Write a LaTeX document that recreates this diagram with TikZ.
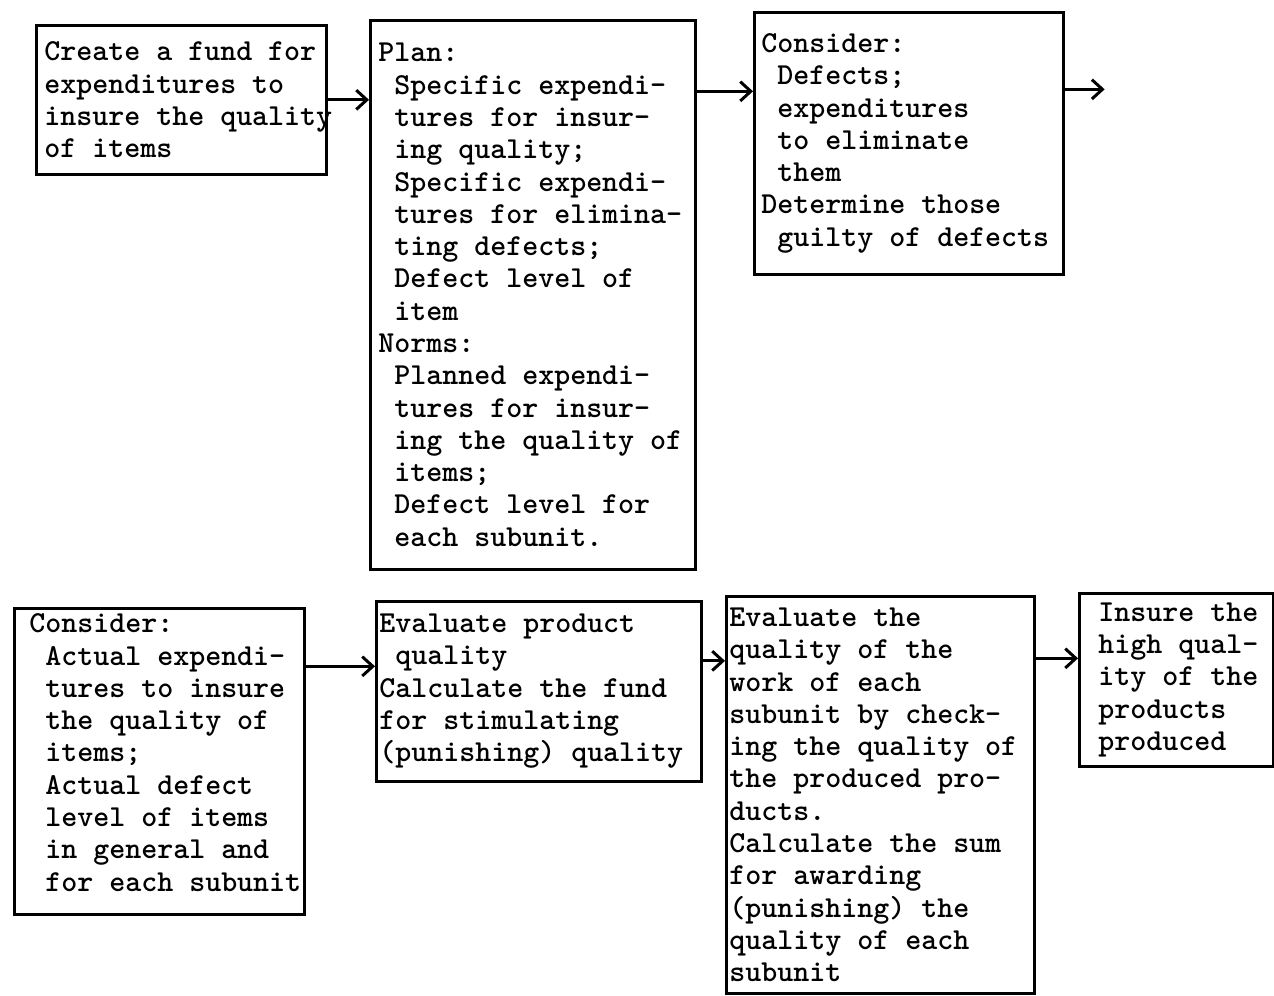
\documentclass[tikz,border=0pt]{standalone}
\usetikzlibrary{arrows.meta, positioning}

% one typewriter step to the right
\newcommand\lind{\hspace*{0.525em}}

\begin{document}
\begin{tikzpicture}[x=0.02cm, y=-0.02cm,
        box/.style n args = {3}{draw, line width=1.5pt, anchor=north west, align=left,
            font=\ttfamily\bfseries\fontsize{17.34}{18.38}\selectfont,
            minimum width=#1*0.02cm, minimum height=#2*0.02cm, inner ysep=0pt,
            inner xsep=#3*0.02cm, text width=(#1-2*#3)*0.02cm,
            execute at begin node={\spaceskip=0pt\xspaceskip=0pt
                \rightskip=0pt plus 1fil\advance\rightskip by -3cm\relax}},
        flow/.style = {->, line width=1.7pt},
        >={Straight Barb[length=6pt, width=11pt]}]

    \useasboundingbox (0,0) rectangle (1274,996);

    % upper row
    \node[box={290}{149}{8}] (b1) at (35,24)
        {Create a fund for\\expenditures to\\insure the quality\\of items};
    \node[box={325}{549}{8}] (b2) at (369,19)
        {Plan:\\\lind Specific expendi-\\\lind tures for insur-\\\lind ing quality;\\
         \lind Specific expendi-\\\lind tures for elimina-\\\lind ting defects;\\
         \lind Defect level of\\\lind item\\Norms:\\\lind Planned expendi-\\
         \lind tures for insur-\\\lind ing the quality of\\\lind items;\\
         \lind Defect level for\\\lind each subunit.};
    \node[box={309}{262}{7}] (b3) at (753,11)
        {Consider:\\\lind Defects;\\\lind expenditures\\\lind to eliminate\\\lind them\\
         Determine those\\\lind guilty of defects};

    % lower row
    \node[box={290}{306}{15}, text depth=5.52cm] (b4) at (13,607)
        {Consider:\\\lind Actual expendi-\\\lind tures to insure\\\lind the quality of\\
         \lind items;\\\lind Actual defect\\\lind level of items\\\lind in general and\\
         \lind for each subunit};
    \node[box={325}{180}{3}] (b5) at (375,600)
        {Evaluate product\\\lind quality\\Calculate the fund\\for stimulating\\(punishing) quality};
    \node[box={308}{397}{3}] (b6) at (725,595)
        {Evaluate the\\quality of the\\work of each\\subunit by check-\\ing the quality of\\
         the produced pro-\\ducts.\\Calculate the sum\\for awarding\\(punishing) the\\
         quality of each\\subunit};
    \node[box={194}{173}{19}] (b7) at (1078,592)
        {Insure the\\high qual-\\ity of the\\products\\produced};

    % arrow heights
    \coordinate (p2) at ([yshift=1.04cm]b3.west);
    \coordinate (p3) at ([yshift=1.08cm]b3.east);
    \coordinate (out) at ([xshift=0.8cm]p3);
    \coordinate (p4) at ([yshift=0.5cm]b5.west);
    \coordinate (p5) at ([yshift=2.68cm]b6.west);
    \coordinate (p6) at ([yshift=0.43cm]b7.west);

    \draw[flow] (b1.east) -- (b1.east -| b2.west);
    \draw[flow] (p2 -| b2.east) -- (p2);
    \draw[flow] (p3) -- (out);
    \draw[flow] (p4 -| b4.east) -- (p4);
    \draw[flow] (p5 -| b5.east) -- (p5);
    \draw[flow] (p6 -| b6.east) -- (p6);

\end{tikzpicture}
\end{document}
